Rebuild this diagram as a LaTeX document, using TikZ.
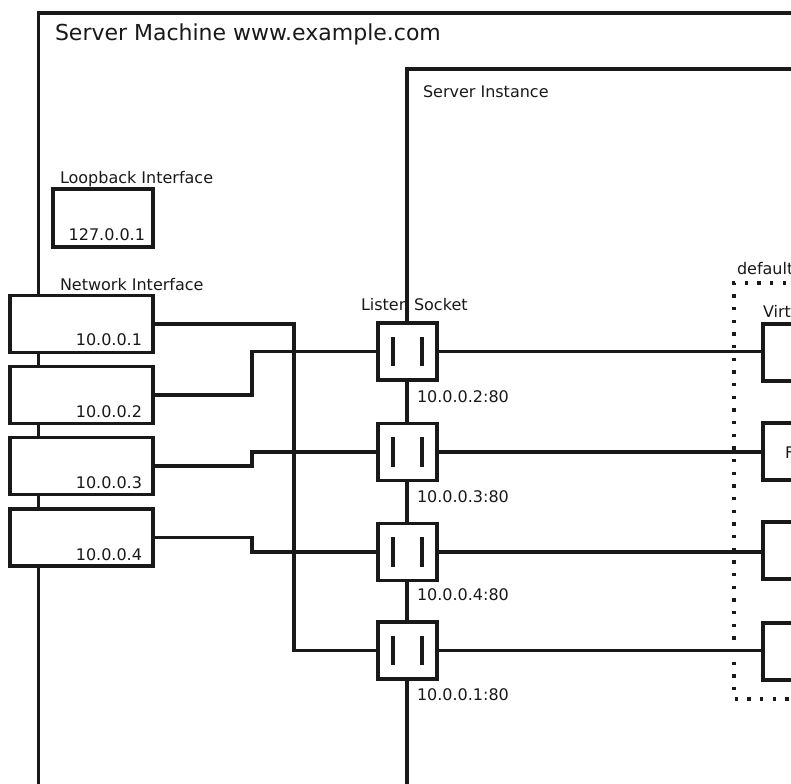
\documentclass[tikz,border=0pt]{standalone}
\usepackage{fontspec}
\setmainfont{DejaVu Sans}
\begin{document}
\begin{tikzpicture}[x=0.75pt,y=-0.75pt,
  every node/.style={inner sep=0pt, outer sep=0pt},
  txt/.style={font=\fontsize{12pt}{14pt}\selectfont, text=black!90},
  bigtxt/.style={font=\fontsize{16.5pt}{19pt}\selectfont, text=black!90},
  frame/.style={draw=black!90, line width=2.8pt},
  nicbox/.style={draw=black!90, fill=white, line width=2.8pt, minimum width=107.25pt, minimum height=42.75pt},
  loopbox/.style={draw=black!90, fill=white, line width=2.8pt, minimum width=75pt, minimum height=43.5pt},
  vhbox/.style={draw=black!90, fill=white, line width=3pt, minimum width=75pt, minimum height=42.75pt},
  sockbox/.style={draw=black!90, fill=white, line width=2.8pt, minimum width=44.25pt, minimum height=42.75pt,
    path picture={
      \draw[black!90, line width=2.6pt] ([shift={(-10.9pt,-10.9pt)}]path picture bounding box.center) -- ++(0pt,21.8pt);
      \draw[black!90, line width=2.6pt] ([shift={(10.9pt,-10.9pt)}]path picture bounding box.center) -- ++(0pt,21.8pt);
    }},
  wire/.style={draw=black!90, line width=2.6pt},
  thinwire/.style={draw=black!90, line width=2.3pt},
  dotframe/.style={draw=black!90, line width=2.5pt, dash pattern=on 2.5pt off 7pt}
]
\useasboundingbox (0,0) rectangle (791,783);
\clip (0,0) rectangle (791,783);

% labels
\node[bigtxt, anchor=base west] (smlbl) at (55,40) {Server Machine www.example.com};
\node[txt, anchor=base west] (silbl) at (423,97) {Server Instance};
\node[txt, anchor=base west] (lolbl) at (60,183) {Loopback Interface};
\node[txt, anchor=base west] (nilbl) at (60,290) {Network Interface};
\node[txt, anchor=base west] (lslbl) at (361,310) {Listen Socket};
\node[txt, anchor=base west] (deflbl) at (737,274) {default};
\node[txt, anchor=base west] (vhlbl) at (763,317) {Virt};

% frames
\draw[frame] (38.5,900) -- (38.5,13) -- (900,13);
\draw[frame] (407,900) -- (407,69) -- (900,69);
\draw[dotframe] (900,283) -- (734,283) -- (734,699) -- (900,699);

% loopback
\node[loopbox] (lo) at (103,218) {};
\node[txt, anchor=base east] (lotxt) at (145,240) {127.0.0.1};

% network interfaces
\node[nicbox] (nic1) at (81.5,324) {};
\node[nicbox] (nic2) at (81.5,395) {};
\node[nicbox] (nic3) at (81.5,466) {};
\node[nicbox] (nic4) at (81.5,537.5) {};
\node[txt, anchor=base east] (nic1txt) at (142,345) {10.0.0.1};
\node[txt, anchor=base east] (nic2txt) at (142,417) {10.0.0.2};
\node[txt, anchor=base east] (nic3txt) at (142,488) {10.0.0.3};
\node[txt, anchor=base east] (nic4txt) at (142,560) {10.0.0.4};

% sockets
\node[sockbox] (s1) at (407.5,351.5) {};
\node[sockbox] (s2) at (407.5,452) {};
\node[sockbox] (s3) at (407.5,552) {};
\node[sockbox] (s4) at (407.5,650.5) {};
\node[txt, anchor=base west] (s1txt) at (417,402) {10.0.0.2:80};
\node[txt, anchor=base west] (s2txt) at (417,502) {10.0.0.3:80};
\node[txt, anchor=base west] (s3txt) at (417,600) {10.0.0.4:80};
\node[txt, anchor=base west] (s4txt) at (417,700) {10.0.0.1:80};

% virtual hosts
\node[vhbox, anchor=west] (vh1) at (763,352.5) {};
\node[vhbox, anchor=west] (vh2) at (763,451.5) {};
\node[vhbox, anchor=west] (vh3) at (763,550.5) {};
\node[vhbox, anchor=west] (vh4) at (763,651) {};
\node[txt, anchor=base west] (vh2txt) at (785,458) {F};

% jog coordinates
\coordinate (ja) at (294,0);
\coordinate (jb) at (252,0);

% wires from interfaces to sockets
\draw[wire] (nic1.east) -| (ja |- s4.west) -- (s4.west);
\draw[wire] (nic2.east) -| (jb |- s1.west) -- (s1.west);
\draw[wire] (nic3.east) -| (jb |- s2.west) -- (s2.west);
\draw[wire] (nic4.east) -| (jb |- s3.west) -- (s3.west);

% wires from sockets to virtual hosts
\draw[thinwire] (s1.east) -- (s1.east -| vh1.west);
\draw[thinwire] (s2.east) -- (s2.east -| vh2.west);
\draw[thinwire] (s3.east) -- (s3.east -| vh3.west);
\draw[thinwire] (s4.east) -- (s4.east -| vh4.west);
\end{tikzpicture}
\end{document}
